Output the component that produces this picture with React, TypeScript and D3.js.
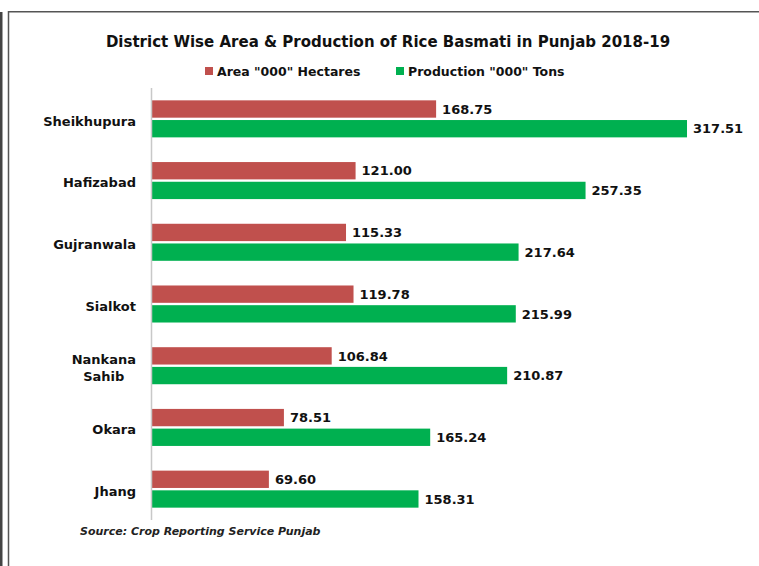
import { useEffect, useRef } from 'react';
import * as d3 from 'd3';

const districts = ['Sheikhupura', 'Hafizabad', 'Gujranwala', 'Sialkot', 'Nankana Sahib', 'Okara', 'Jhang'];
const areaValues = [168.75, 121.0, 115.33, 119.78, 106.84, 78.51, 69.6];
const productionValues = [317.51, 257.35, 217.64, 215.99, 210.87, 165.24, 158.31];
const seriesNames = ['Area "000" Hectares', 'Production "000" Tons'];
const seriesColors = ['#C0504D', '#00B050'];

const FONT = '"DejaVu Sans", Verdana, sans-serif';

export default function App() {
	const ref = useRef<SVGSVGElement>(null);

	useEffect(() => {
		const width = 759;
		const height = 566;
		const margin = { top: 88, bottom: 46, left: 151.5 };

		const svg = d3.select(ref.current);
		svg.selectAll('*').remove();

		svg.append('rect').attr('width', width).attr('height', height).attr('fill', '#fff');

		// frame
		svg.append('rect').attr('x', 0).attr('y', 12).attr('width', 2.5).attr('height', height - 12).attr('fill', '#444');
		svg.append('line').attr('x1', 8.5).attr('x2', 8.5).attr('y1', 11).attr('y2', height).attr('stroke', '#555').attr('stroke-width', 1.5);
		svg.append('line').attr('x1', 8).attr('x2', width).attr('y1', 11.8).attr('y2', 11.8).attr('stroke', '#555').attr('stroke-width', 1.6);

		const rows = districts.map((d, i) => ({ name: d, values: [areaValues[i], productionValues[i]] }));

		const x = d3.scaleLinear()
			.domain([0, 350])
			.range([margin.left, margin.left + 350 * 1.6866]);

		const y = d3.scaleBand()
			.domain(districts)
			.range([margin.top, height - margin.bottom])
			.paddingInner(0.4)
			.paddingOuter(0.2);

		const sub = d3.scaleBand()
			.domain(['0', '1'])
			.range([0, y.bandwidth()])
			.paddingInner(0.12);

		const fmt = d3.format('.2f');

		const groups = svg.append('g')
			.selectAll('g')
			.data(rows)
			.join('g')
			.attr('transform', d => `translate(0,${y(d.name)})`);

		groups.selectAll('rect')
			.data(d => d.values)
			.join('rect')
			.attr('x', x(0))
			.attr('y', (_, i) => sub(String(i))!)
			.attr('width', v => x(v) - x(0))
			.attr('height', sub.bandwidth())
			.attr('fill', (_, i) => seriesColors[i]);

		groups.selectAll('text.val')
			.data(d => d.values)
			.join('text')
			.attr('class', 'val')
			.attr('x', v => x(v) + 6)
			.attr('y', (_, i) => sub(String(i))! + sub.bandwidth() / 2)
			.attr('dy', '0.36em')
			.attr('font-family', FONT)
			.attr('font-weight', 'bold')
			.attr('font-size', 13)
			.attr('fill', '#111')
			.text(v => fmt(v));

		// axis line
		svg.append('line')
			.attr('x1', x(0)).attr('x2', x(0))
			.attr('y1', margin.top).attr('y2', height - margin.bottom)
			.attr('stroke', '#c8c8c8').attr('stroke-width', 1.5);

		// category labels (multi-line ones are centred on the widest line)
		const labels = svg.append('g')
			.selectAll('text')
			.data(rows)
			.join('text')
			.attr('font-family', FONT)
			.attr('font-weight', 'bold')
			.attr('font-size', 13)
			.attr('fill', '#111')
			.attr('text-anchor', 'middle');

		labels.each(function (d) {
			const t = d3.select(this);
			const parts = d.name === 'Nankana Sahib' ? ['Nankana', 'Sahib'] : [d.name];
			const cy = y(d.name)! + y.bandwidth() / 2 + 2;
			const lh = 17;
			const spans = parts.map((p, k) =>
				t.append('tspan')
					.attr('x', 0)
					.attr('y', cy + (k - (parts.length - 1) / 2) * lh)
					.attr('dy', '0.36em')
					.text(p)
			);
			const w = d3.max(spans, s => (s.node() as SVGTSpanElement).getComputedTextLength()) || 0;
			t.selectAll('tspan').attr('x', 136 - w / 2);
		});

		// title
		svg.append('text')
			.attr('x', 388).attr('y', 42).attr('dy', '0.36em')
			.attr('text-anchor', 'middle')
			.attr('font-family', FONT).attr('font-weight', 'bold').attr('font-size', 15)
			.attr('fill', '#111')
			.text('District Wise Area & Production of Rice Basmati in Punjab 2018-19');

		// legend
		const legendX = [205, 396];
		const lg = svg.append('g')
			.selectAll('g')
			.data(seriesNames)
			.join('g')
			.attr('transform', (_, i) => `translate(${legendX[i]},71)`);
		lg.append('rect').attr('x', 0).attr('y', -4).attr('width', 8).attr('height', 8).attr('fill', (_, i) => seriesColors[i]);
		lg.append('text')
			.attr('x', 12).attr('dy', '0.36em')
			.attr('font-family', FONT).attr('font-weight', 'bold').attr('font-size', 12.5)
			.attr('fill', '#111')
			.text(d => d);

		// source
		svg.append('text')
			.attr('x', 80).attr('y', 531).attr('dy', '0.36em')
			.attr('font-family', FONT).attr('font-weight', 'bold').attr('font-style', 'italic').attr('font-size', 11)
			.attr('fill', '#222')
			.text('Source: Crop Reporting Service Punjab');
	}, []);

	return (
		<svg ref={ref} width={759} height={566} style={{ position: 'absolute', left: 0, top: 0 }} />
	);
}
